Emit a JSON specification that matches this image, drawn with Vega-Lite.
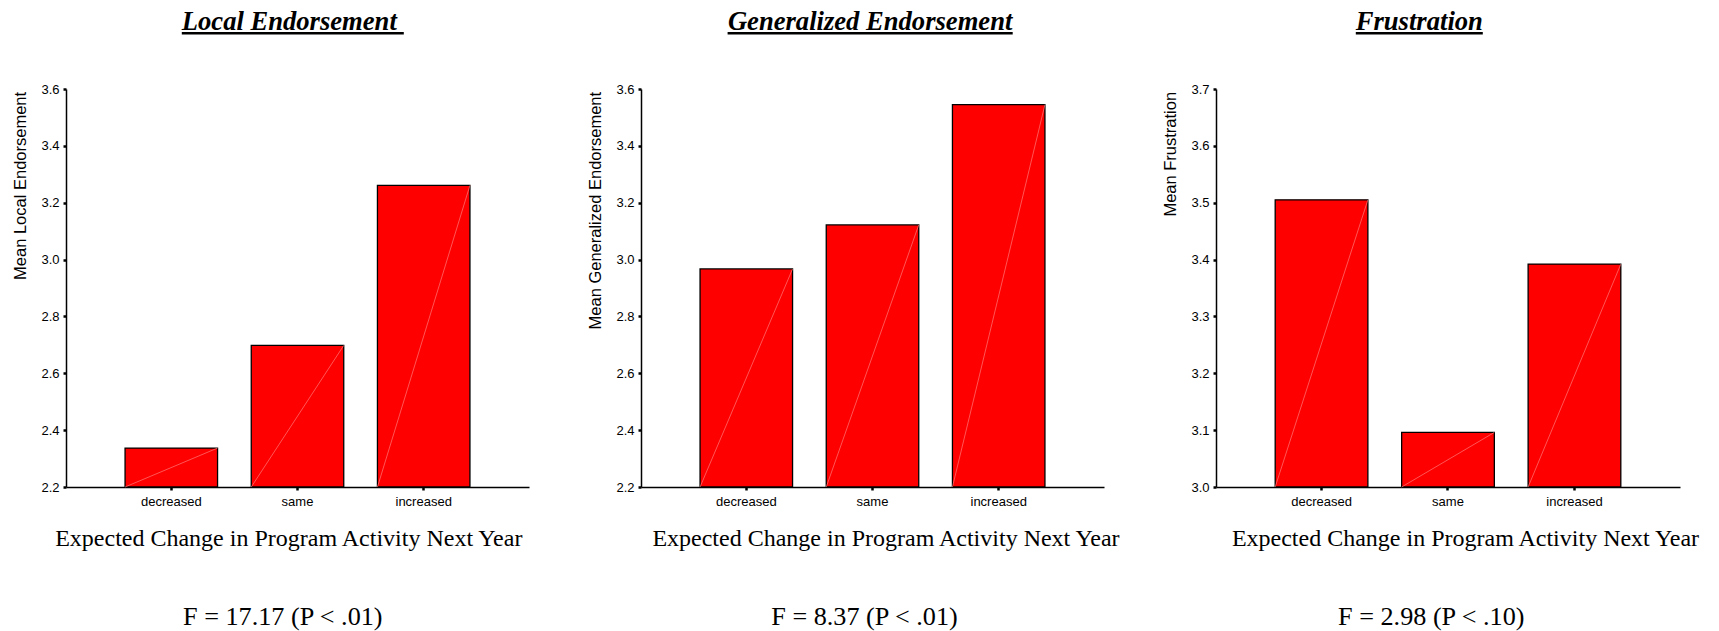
{
  "$schema": "https://vega.github.io/schema/vega-lite/v6.json",
  "background": "white",
  "padding": {"left": 11, "top": 8, "right": 5, "bottom": 5},
  "spacing": 112,
  "bounds": "flush",
  "config": {
    "view": {"stroke": null},
    "axis": {
      "grid": false,
      "domainColor": "black",
      "tickColor": "black",
      "labelColor": "black",
      "titleColor": "black",
      "domainWidth": 1.5,
      "tickSize": 3,
      "tickWidth": 2.5,
      "labelFont": "Liberation Sans",
      "labelFontSize": 13
    },
    "axisX": {
      "labelAngle": 0,
      "labelPadding": 5,
      "titleFont": "Liberation Serif",
      "titleFontSize": 24,
      "titleFontWeight": "normal",
      "titleY": 58.7,
      "titleBaseline": "alphabetic",
      "titleAlign": "center"
    },
    "axisY": {
      "labelPadding": 4,
      "format": ".1f",
      "titleFont": "Liberation Sans",
      "titleFontSize": 16.5,
      "titleFontWeight": "normal",
      "titleX": -46,
      "titleY": 2.4,
      "titleAngle": -90,
      "titleAlign": "right",
      "titleBaseline": "middle"
    },
    "title": {
      "font": "Liberation Serif",
      "fontSize": 26.2,
      "fontWeight": "normal",
      "color": "black",
      "orient": "bottom",
      "anchor": "middle",
      "frame": "group",
      "baseline": "alphabetic",
      "offset": 53.5
    }
  },
  "hconcat": [
    {
      "width": 463,
      "height": 398,
      "data": {"values": [
        {"change": "decreased", "mean": 2.337},
        {"change": "same", "mean": 2.698},
        {"change": "increased", "mean": 3.261}
      ]},
      "title": {"text": "F = 17.17 (P < .01)", "dx": -14.7},
      "layer": [
        {
          "layer": [
            {
              "mark": {"type": "bar", "color": "#ff0000", "stroke": "black", "strokeWidth": 1.3},
              "encoding": {
                "x": {"field": "change", "type": "nominal", "sort": ["decreased", "same", "increased"],
                      "scale": {"paddingInner": 0.267, "paddingOuter": 0.468},
                      "axis": {"title": "Expected Change in Program Activity Next Year", "titleX": 222.3}},
                "y": {"field": "mean", "type": "quantitative",
                      "scale": {"domain": [2.2, 3.6], "nice": false, "zero": false},
                      "axis": {"title": "Mean Local Endorsement", "values": [2.2, 2.4, 2.6, 2.8, 3.0, 3.2, 3.4, 3.6]}},
                "y2": {"datum": 2.2}
              }
            },
            {
              "mark": {"type": "rule", "color": "#ff7a7a", "strokeWidth": 0.7},
              "encoding": {
                "x": {"field": "change", "type": "nominal", "sort": ["decreased", "same", "increased"], "bandPosition": 1},
                "x2": {"field": "change", "bandPosition": 0},
                "y": {"field": "mean", "type": "quantitative"},
                "y2": {"datum": 2.2}
              }
            }
          ]
        },
        {
          "mark": {"type": "point", "opacity": 0},
          "encoding": {
            "x": {"datum": 0, "type": "quantitative",
                  "scale": {"domain": [0, 1], "range": [115.3, 337.3]},
                  "axis": {"orient": "top", "offset": 56.3, "domainWidth": 2.6, "ticks": false, "labels": false,
                           "title": "Local Endorsement", "titleFont": "Liberation Serif", "titleFontSize": 26.6,
                           "titleFontStyle": "italic", "titleFontWeight": "bold",
                           "titleX": 222.8, "titleY": -3.7, "titleBaseline": "alphabetic", "titleAlign": "center"}}
          }
        }
      ],
      "resolve": {"scale": {"x": "independent"}, "axis": {"x": "independent"}}
    },
    {
      "width": 463,
      "height": 398,
      "data": {"values": [
        {"change": "decreased", "mean": 2.967},
        {"change": "same", "mean": 3.122},
        {"change": "increased", "mean": 3.545}
      ]},
      "title": {"text": "F = 8.37 (P < .01)", "dx": -8},
      "layer": [
        {
          "layer": [
            {
              "mark": {"type": "bar", "color": "#ff0000", "stroke": "black", "strokeWidth": 1.3},
              "encoding": {
                "x": {"field": "change", "type": "nominal", "sort": ["decreased", "same", "increased"],
                      "scale": {"paddingInner": 0.267, "paddingOuter": 0.468},
                      "axis": {"title": "Expected Change in Program Activity Next Year", "titleX": 244.5}},
                "y": {"field": "mean", "type": "quantitative",
                      "scale": {"domain": [2.2, 3.6], "nice": false, "zero": false},
                      "axis": {"title": "Mean Generalized Endorsement", "values": [2.2, 2.4, 2.6, 2.8, 3.0, 3.2, 3.4, 3.6]}},
                "y2": {"datum": 2.2}
              }
            },
            {
              "mark": {"type": "rule", "color": "#ff7a7a", "strokeWidth": 0.7},
              "encoding": {
                "x": {"field": "change", "type": "nominal", "sort": ["decreased", "same", "increased"], "bandPosition": 1},
                "x2": {"field": "change", "bandPosition": 0},
                "y": {"field": "mean", "type": "quantitative"},
                "y2": {"datum": 2.2}
              }
            }
          ]
        },
        {
          "mark": {"type": "point", "opacity": 0},
          "encoding": {
            "x": {"datum": 0, "type": "quantitative",
                  "scale": {"domain": [0, 1], "range": [86.1, 371.2]},
                  "axis": {"orient": "top", "offset": 56.3, "domainWidth": 2.6, "ticks": false, "labels": false,
                           "title": "Generalized Endorsement", "titleFont": "Liberation Serif", "titleFontSize": 26.6,
                           "titleFontStyle": "italic", "titleFontWeight": "bold",
                           "titleX": 228.6, "titleY": -3.7, "titleBaseline": "alphabetic", "titleAlign": "center"}}
          }
        }
      ],
      "resolve": {"scale": {"x": "independent"}, "axis": {"x": "independent"}}
    },
    {
      "width": 464,
      "height": 398,
      "data": {"values": [
        {"change": "decreased", "mean": 3.505},
        {"change": "same", "mean": 3.096},
        {"change": "increased", "mean": 3.392}
      ]},
      "title": {"text": "F = 2.98 (P < .10)", "dx": -16.7},
      "layer": [
        {
          "layer": [
            {
              "mark": {"type": "bar", "color": "#ff0000", "stroke": "black", "strokeWidth": 1.3},
              "encoding": {
                "x": {"field": "change", "type": "nominal", "sort": ["decreased", "same", "increased"],
                      "scale": {"paddingInner": 0.267, "paddingOuter": 0.468},
                      "axis": {"title": "Expected Change in Program Activity Next Year", "titleX": 249}},
                "y": {"field": "mean", "type": "quantitative",
                      "scale": {"domain": [3.0, 3.7], "nice": false, "zero": false},
                      "axis": {"title": "Mean Frustration", "values": [3.0, 3.1, 3.2, 3.3, 3.4, 3.5, 3.6, 3.7]}},
                "y2": {"datum": 3.0}
              }
            },
            {
              "mark": {"type": "rule", "color": "#ff7a7a", "strokeWidth": 0.7},
              "encoding": {
                "x": {"field": "change", "type": "nominal", "sort": ["decreased", "same", "increased"], "bandPosition": 1},
                "x2": {"field": "change", "bandPosition": 0},
                "y": {"field": "mean", "type": "quantitative"},
                "y2": {"datum": 3.0}
              }
            }
          ]
        },
        {
          "mark": {"type": "point", "opacity": 0},
          "encoding": {
            "x": {"datum": 0, "type": "quantitative",
                  "scale": {"domain": [0, 1], "range": [139.3, 266.3]},
                  "axis": {"orient": "top", "offset": 56.3, "domainWidth": 2.6, "ticks": false, "labels": false,
                           "title": "Frustration", "titleFont": "Liberation Serif", "titleFontSize": 26.6,
                           "titleFontStyle": "italic", "titleFontWeight": "bold",
                           "titleX": 202.8, "titleY": -3.7, "titleBaseline": "alphabetic", "titleAlign": "center"}}
          }
        }
      ],
      "resolve": {"scale": {"x": "independent"}, "axis": {"x": "independent"}}
    }
  ]
}
